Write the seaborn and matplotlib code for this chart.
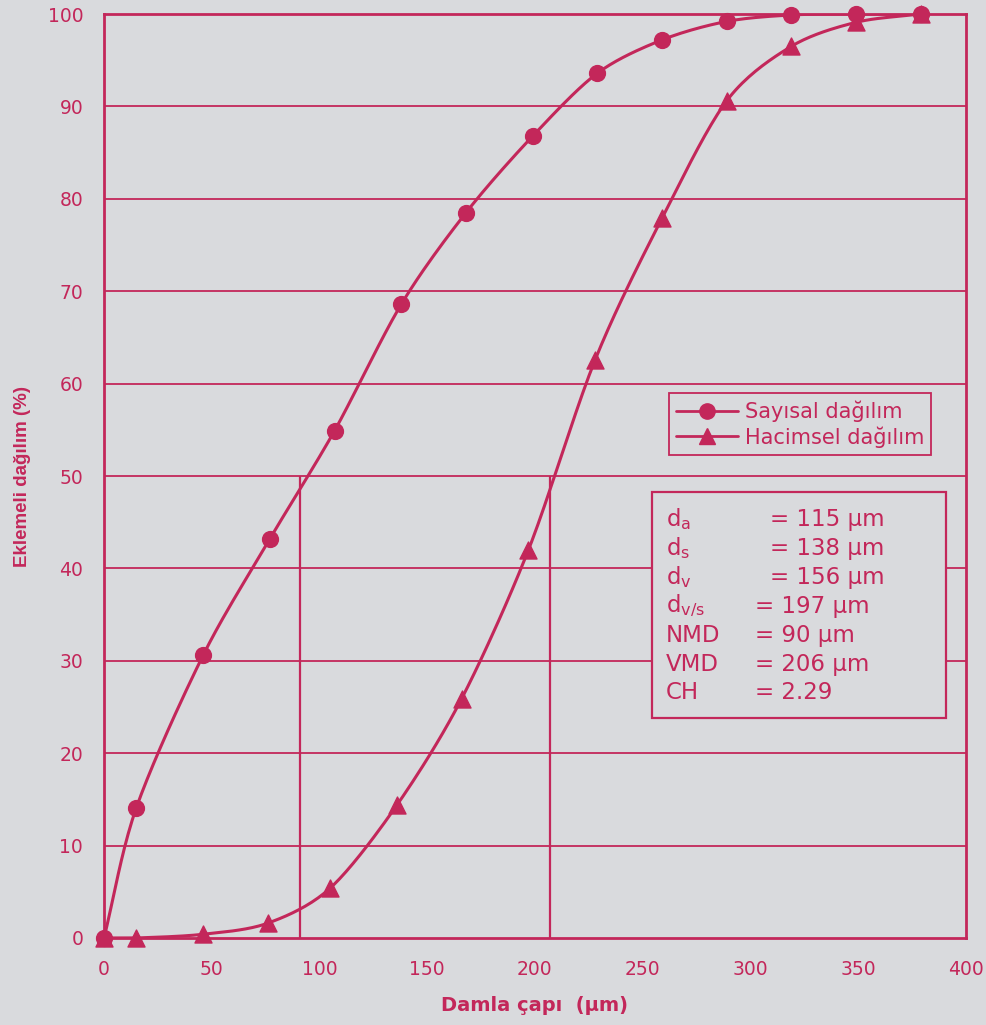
import numpy as np
import pandas as pd
import matplotlib
matplotlib.use("Agg")
import matplotlib.pyplot as plt
import seaborn as sns
from matplotlib.lines import Line2D
from matplotlib.patches import Rectangle

# ---- data ----
diam = [0, 15, 46, 77, 107, 138, 168, 199, 229, 259, 289, 319, 349, 379]
sayisal = [0, 14.1, 30.6, 43.2, 54.9, 68.6, 78.5, 86.8, 93.6, 97.2, 99.2, 99.9, 100, 100]
diam_h = [0, 15, 46, 76, 105, 136, 166, 197, 228, 259, 289, 319, 349, 379]
hacimsel = [0, 0, 0.4, 1.6, 5.4, 14.4, 25.9, 42.0, 62.6, 77.9, 90.6, 96.5, 99.1, 100]
nmd_line = 91
vmd_line = 207
median_level = 50
stats_names = [r"d$_\mathregular{a}$", r"d$_\mathregular{s}$", r"d$_\mathregular{v}$",
               r"d$_\mathregular{v/s}$", "NMD", "VMD", "CH"]
stats_values = ["= 115 µm", "= 138 µm", "= 156 µm", "= 197 µm", "= 90 µm", "= 206 µm", "= 2.29"]
xticks = [0, 50, 100, 150, 200, 250, 300, 350, 400]
yticks = list(range(0, 101, 10))

RED = "#c3275a"
BG = "#d9dadd"

sns.set_style("white")
plt.rcParams["font.family"] = ["DejaVu Sans"]
plt.rcParams["mathtext.fontset"] = "custom"
plt.rcParams["mathtext.rm"] = "DejaVu Sans"
plt.rcParams["mathtext.it"] = "DejaVu Sans:italic"


def smooth(x, y, n=20):
    x = np.asarray(x, float); y = np.asarray(y, float)
    px = np.concatenate([[2 * x[0] - x[1]], x, [2 * x[-1] - x[-2]]])
    py = np.concatenate([[2 * y[0] - y[1]], y, [2 * y[-1] - y[-2]]])
    xs, ys = [], []
    t = np.linspace(0, 1, n, endpoint=False)
    for i in range(1, len(px) - 2):
        p0, p1, p2, p3 = [np.array([px[j], py[j] * 4.3]) for j in (i - 1, i, i + 1, i + 2)]
        m1 = (p2 - p0) / 2 * 0.9
        m2 = (p3 - p1) / 2 * 0.9
        for tt in t:
            h00 = 2 * tt**3 - 3 * tt**2 + 1
            h10 = tt**3 - 2 * tt**2 + tt
            h01 = -2 * tt**3 + 3 * tt**2
            h11 = tt**3 - tt**2
            p = h00 * p1 + h10 * m1 + h01 * p2 + h11 * m2
            xs.append(p[0]); ys.append(p[1] / 4.3)
    xs.append(x[-1]); ys.append(y[-1])
    return np.array(xs), np.clip(np.array(ys), 0, 100)


fig = plt.figure(figsize=(9.86, 10.25), dpi=100, facecolor=BG)
ax = fig.add_axes([0.1055, 0.0849, 0.874, 0.9014])
ax.set_facecolor(BG)

ax.set_xlim(0, 400)
ax.set_ylim(0, 100)

# grid
for yv in yticks[1:]:
    ax.axhline(yv, color=RED, lw=1.3, zorder=1)

ax.vlines([nmd_line, vmd_line], 0, median_level, color=RED, lw=1.6, zorder=1)

df_s = pd.DataFrame({"x": diam, "y": sayisal})
df_h = pd.DataFrame({"x": diam_h, "y": hacimsel})

sx, sy = smooth(diam, sayisal)
ax.plot(sx, sy, color=RED, lw=2.2, zorder=3)
hx, hy = smooth(diam_h, hacimsel)
ax.plot(hx, hy, color=RED, lw=2.2, zorder=3)

sns.scatterplot(data=df_s, x="x", y="y", ax=ax, marker="o", s=130, color=RED,
                edgecolor=RED, linewidth=1, zorder=4, clip_on=False)
sns.scatterplot(data=df_h, x="x", y="y", ax=ax, marker="^", s=150, color=RED,
                edgecolor=RED, linewidth=1, zorder=4, clip_on=False)

for s in ax.spines.values():
    s.set_color(RED)
    s.set_linewidth(2)

ax.set_xticks(xticks)
ax.set_yticks(yticks)
ax.tick_params(axis="both", colors=RED, labelcolor=RED, labelsize=13.5,
               direction="out", length=6, width=2)
ax.tick_params(axis="y", pad=9)
ax.tick_params(axis="x", pad=10)

ax.set_xlabel("Damla çapı  (µm)", color=RED, fontsize=14, fontweight="bold",
              labelpad=12)
ax.set_ylabel("Eklemeli dağılım (%)", color=RED, fontsize=13.5, fontweight="bold",
              family=["Liberation Sans", "DejaVu Sans"], labelpad=12)

# legend
handles = [Line2D([], [], color=RED, lw=2, marker="o", markersize=11),
           Line2D([], [], color=RED, lw=2, marker="^", markersize=12)]
leg = ax.legend(handles, ["Sayısal dağılım", "Hacimsel dağılım"],
                loc="upper left", bbox_to_anchor=(0.643, 0.601),
                frameon=True, fancybox=False, framealpha=1, facecolor=BG,
                edgecolor=RED, handlelength=3.0, handletextpad=0.3,
                borderpad=0.35, labelspacing=0.2,
                prop={"family": ["DejaVu Sans"], "size": 15})
leg.get_frame().set_linewidth(1.3)
for t in leg.get_texts():
    t.set_color(RED)

# stats box
ax.add_patch(Rectangle((0.636, 0.238), 0.341, 0.245, transform=ax.transAxes,
                       facecolor=BG, edgecolor=RED, lw=1.6, zorder=5))
y0 = 0.453
dy = 0.0313
for i, (nm, val) in enumerate(zip(stats_names, stats_values)):
    yy = y0 - i * dy
    ax.text(0.652, yy, nm, transform=ax.transAxes, color=RED, fontsize=16.5,
            va="center", zorder=6)
    xv = 0.773 if i < 3 else 0.755
    ax.text(xv, yy, val, transform=ax.transAxes, color=RED, fontsize=16.5,
            va="center", zorder=6)

fig.savefig("out.png", dpi=100, facecolor=BG)
